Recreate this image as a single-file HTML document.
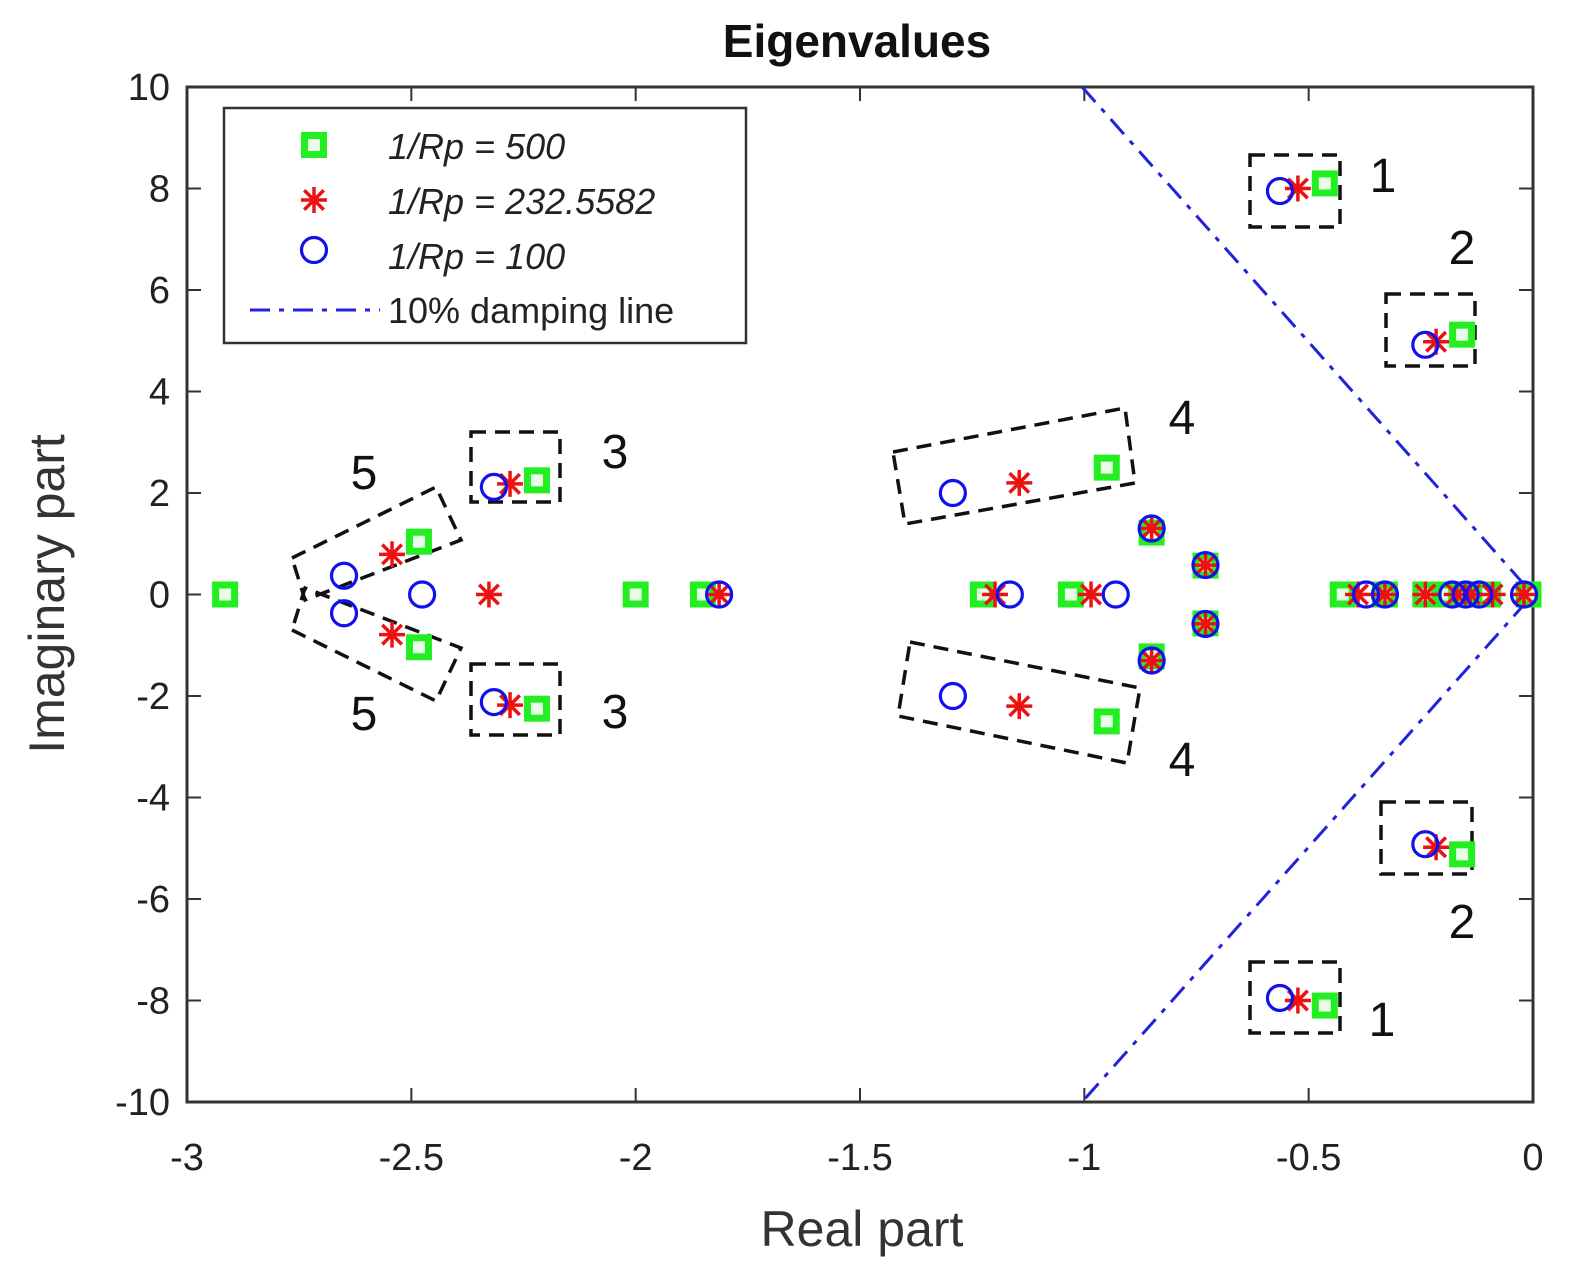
<!DOCTYPE html>
<html><head><meta charset="utf-8"><style>
body{margin:0;background:#fff;}
svg text{font-family:"Liberation Sans",sans-serif;}
</style></head><body>
<svg id="c" width="1574" height="1282" xmlns="http://www.w3.org/2000/svg"></svg>
<script>
const xTicks=[-3,-2.5,-2,-1.5,-1,-0.5,0];
const yTicks=[10,8,6,4,2,0,-2,-4,-6,-8,-10];
const greenRe=[-2.915,-2.483,-2.483,-2.22,-2.22,-2.0,-1.85,-1.226,-1.03,-0.95,-0.95,-0.85,-0.85,-0.73,-0.73,-0.424,-0.33,-0.24,-0.19,-0.16,-0.15,-0.1,-0.01,-0.464,-0.464,-0.158,-0.158];
const greenIm=[0,1.04,-1.04,2.25,-2.25,0,0,0,0,2.5,-2.5,1.22,-1.22,0.57,-0.57,0,0,0,0,0,0,0,0,8.1,-8.1,5.12,-5.12];
const redRe=[-2.543,-2.543,-2.327,-2.28,-2.28,-1.814,-1.199,-0.985,-1.145,-1.145,-0.85,-0.85,-0.73,-0.73,-0.39,-0.33,-0.24,-0.17,-0.14,-0.09,-0.02,-0.524,-0.524,-0.216,-0.216];
const redIm=[0.79,-0.79,0,2.18,-2.18,0,0,0,2.2,-2.2,1.3,-1.3,0.58,-0.58,0,0,0,0,0,0,0,8.0,-8.0,4.98,-4.98];
const blueRe=[-2.65,-2.65,-2.476,-2.316,-2.316,-1.814,-1.166,-0.93,-1.293,-1.293,-0.85,-0.85,-0.73,-0.73,-0.372,-0.33,-0.18,-0.15,-0.12,-0.02,-0.564,-0.564,-0.24,-0.24];
const blueIm=[0.37,-0.37,0,2.12,-2.12,0,0,0,2.0,-2.0,1.3,-1.3,0.58,-0.58,0,0,0,0,0,0,7.95,-7.95,4.92,-4.92];
const dampSlope=9.95;
const L=187,R=1533,T=87,B=1102;
const X=v=>L+(v+3)/3*(R-L);
const Y=v=>T+(10-v)/20*(B-T);
const svg=document.getElementById('c');
const NS='http://www.w3.org/2000/svg';
function el(tag,attrs,parent){const e=document.createElementNS(NS,tag);for(const k in attrs)e.setAttribute(k,attrs[k]);(parent||svg).appendChild(e);return e;}
function txt(s,attrs,name){const t=el('text',attrs);t.textContent=s;


return t;}
const box=el('rect',{x:L,y:T,width:R-L,height:B-T,fill:'none',stroke:'#333',"stroke-width":3});


xTicks.forEach(v=>{const x=X(v);
el('line',{x1:x,x2:x,y1:B,y2:B-14,stroke:'#333','stroke-width':2});
el('line',{x1:x,x2:x,y1:T,y2:T+14,stroke:'#333','stroke-width':2});
txt(String(v),{x:x,y:1170,'font-size':38,'text-anchor':'middle',fill:'#222'},'x-tick-label');});
yTicks.forEach(v=>{const y=Y(v);
el('line',{x1:L,x2:L+14,y1:y,y2:y,stroke:'#333','stroke-width':2});
el('line',{x1:R,x2:R-14,y1:y,y2:y,stroke:'#333','stroke-width':2});
txt(String(v),{x:170,y:y+13,'font-size':38,'text-anchor':'end',fill:'#222'},'y-tick-label');});
txt('Eigenvalues',{x:857,y:57,'font-size':46,'font-weight':'bold','text-anchor':'middle',fill:'#111'},'chart-title');
txt('Real part',{x:862,y:1246,'font-size':50,'text-anchor':'middle',fill:'#333'},'x-axis-title');
txt('Imaginary part',{x:64,y:594,'font-size':50,'text-anchor':'middle',fill:'#333',transform:'rotate(-90 64 594)'},'y-axis-title');
const dl=el('polyline',{points:`${X(-10/dampSlope)},${Y(10)} ${X(0)},${Y(0)} ${X(-10/dampSlope)},${Y(-10)}`,fill:'none',stroke:'#2222dd','stroke-width':3,'stroke-dasharray':'20 9 5 9'});


const boxes=[[[1250,155],[1340,155],[1340,227],[1250,227]],[[1250,962],[1340,962],[1340,1033],[1250,1033]],
[[1386,294],[1475,294],[1475,366],[1386,366]],[[1381,802],[1472,802],[1472,874],[1381,874]],
[[471,432],[560,432],[560,502],[471,502]],[[471,664],[560,664],[560,735],[471,735]],
[[893,452],[1125,408],[1135,483],[905,524]],[[910,642],[1140,688],[1127,763],[898,716]],
[[292,558],[436,487],[461,540],[305,600]],[[292,630],[436,701],[461,648],[305,588]]];
boxes.forEach(b=>{const p=el('polygon',{points:b.map(q=>q.join(',')).join(' '),fill:'none',stroke:'#111','stroke-width':3.5,'stroke-dasharray':'15 9'});

});
const labels=[['1',1383,192],['2',1462,264],['3',615,468],['4',1182,434],['5',364,489],['5',364,730],['3',615,728],['4',1182,776],['2',1462,938],['1',1382,1036]];
labels.forEach(l=>txt(l[0],{x:l[1],y:l[2],'font-size':48,'text-anchor':'middle',fill:'#111'},'mode-label'));
function sq(x,y,g){return el('rect',{x:x-9.5,y:y-9.5,width:19,height:19,fill:'#e8fde8',stroke:'#22ee22','stroke-width':7},g);}
function star(x,y,g){const s=13,d=s*0.75;return el('path',{d:`M${x-s},${y}H${x+s}M${x},${y-s}V${y+s}M${x-d},${y-d}L${x+d},${y+d}M${x-d},${y+d}L${x+d},${y-d}`,stroke:'#ee1111','stroke-width':3.5,fill:'none'},g);}
function circ(x,y,g){return el('circle',{cx:x,cy:y,r:12.5,fill:'none',stroke:'#1111ee','stroke-width':3.2},g);}
const g1=el('g',{});
greenRe.forEach((v,i)=>{const m=sq(X(v),Y(greenIm[i]),g1);});
const g2=el('g',{});
redRe.forEach((v,i)=>{const m=star(X(v),Y(redIm[i]),g2);});
const g3=el('g',{});
blueRe.forEach((v,i)=>{const m=circ(X(v),Y(blueIm[i]),g3);});
const lg=el('g',{});
el('rect',{x:224,y:108,width:522,height:235,fill:'#fff',stroke:'#333','stroke-width':2.5},lg);
sq(314,145,lg);star(314,200,lg);circ(314,250,lg);
el('line',{x1:250,x2:380,y1:310,y2:310,stroke:'#2222dd','stroke-width':3,'stroke-dasharray':'20 9 5 9'},lg);
const lt=[['1/Rp = 500',159,true],['1/Rp = 232.5582',214,true],['1/Rp = 100',269,true],['10% damping line',323,false]];
lt.forEach(l=>{txt(l[0],{x:388,y:l[1],'font-size':36,fill:'#222','font-style':l[2]?'italic':'normal'},'legend-entry');});
</script>
</body></html>
